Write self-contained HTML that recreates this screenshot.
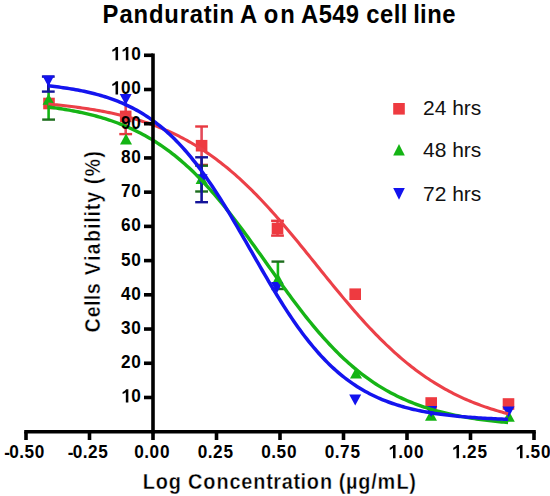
<!DOCTYPE html>
<html><head><meta charset="utf-8"><style>
html,body{margin:0;padding:0;background:#fff;}
body{width:550px;height:496px;overflow:hidden;font-family:"Liberation Sans",sans-serif;}
svg{display:block;}
</style></head><body>
<svg width="550" height="496" viewBox="0 0 550 496">
<rect width="550" height="496" fill="#fff"/>
<line x1="125.70" y1="97.50" x2="125.70" y2="134.10" stroke="#e44a5a" stroke-width="2.6"/><g stroke="#e83840" stroke-width="2.4"><line x1="119.30" y1="134.10" x2="132.10" y2="134.10"/></g>
<line x1="201.60" y1="126.50" x2="201.60" y2="164.90" stroke="#e44a5a" stroke-width="2.6"/><g stroke="#e83840" stroke-width="2.4"><line x1="195.20" y1="126.50" x2="208.00" y2="126.50"/><line x1="195.20" y1="164.90" x2="208.00" y2="164.90"/></g>
<line x1="277.50" y1="220.80" x2="277.50" y2="235.60" stroke="#e44a5a" stroke-width="2.6"/><g stroke="#e83840" stroke-width="2.4"><line x1="271.10" y1="220.80" x2="283.90" y2="220.80"/><line x1="271.10" y1="235.60" x2="283.90" y2="235.60"/></g>
<rect x="43.20" y="97.70" width="11.60" height="11.60" fill="#ee3a40"/>
<rect x="119.90" y="110.60" width="11.60" height="11.60" fill="#ee3a40"/>
<rect x="195.80" y="139.90" width="11.60" height="11.60" fill="#ee3a40"/>
<rect x="271.70" y="222.70" width="11.60" height="11.60" fill="#ee3a40"/>
<rect x="349.40" y="288.40" width="11.60" height="11.60" fill="#ee3a40"/>
<rect x="425.40" y="397.20" width="11.60" height="11.60" fill="#ee3a40"/>
<rect x="502.70" y="398.20" width="11.60" height="11.60" fill="#ee3a40"/>
<line x1="48.60" y1="80.00" x2="48.60" y2="119.60" stroke="#14b414" stroke-width="2.6"/><g stroke="#1e6e1e" stroke-width="2.4"><line x1="42.20" y1="119.60" x2="55.00" y2="119.60"/></g>
<line x1="201.60" y1="165.70" x2="201.60" y2="191.50" stroke="#14b414" stroke-width="2.6"/><g stroke="#1e6e1e" stroke-width="2.4"><line x1="195.20" y1="165.70" x2="208.00" y2="165.70"/><line x1="195.20" y1="191.50" x2="208.00" y2="191.50"/></g>
<line x1="277.90" y1="261.60" x2="277.90" y2="289.00" stroke="#14b414" stroke-width="2.6"/><g stroke="#1e6e1e" stroke-width="2.4"><line x1="271.50" y1="261.60" x2="284.30" y2="261.60"/><line x1="271.50" y1="289.00" x2="284.30" y2="289.00"/></g>
<polygon points="48.60,93.70 54.60,104.70 42.60,104.70" fill="#14b414"/>
<polygon points="126.00,133.50 132.00,144.50 120.00,144.50" fill="#14b414"/>
<polygon points="201.60,173.10 207.60,184.10 195.60,184.10" fill="#14b414"/>
<polygon points="277.90,273.30 283.90,284.30 271.90,284.30" fill="#14b414"/>
<polygon points="356.00,367.50 362.00,378.50 350.00,378.50" fill="#14b414"/>
<polygon points="431.00,409.70 437.00,420.70 425.00,420.70" fill="#14b414"/>
<polygon points="508.80,410.70 514.80,421.70 502.80,421.70" fill="#14b414"/>
<line x1="48.30" y1="76.60" x2="48.30" y2="91.60" stroke="#14149a" stroke-width="2.6"/><g stroke="#14149a" stroke-width="2.4"><line x1="41.90" y1="76.60" x2="54.70" y2="76.60"/><line x1="41.90" y1="91.60" x2="54.70" y2="91.60"/></g>
<line x1="201.60" y1="157.30" x2="201.60" y2="202.20" stroke="#14149a" stroke-width="2.6"/><g stroke="#14149a" stroke-width="2.4"><line x1="195.20" y1="157.30" x2="208.00" y2="157.30"/><line x1="195.20" y1="202.20" x2="208.00" y2="202.20"/></g>
<polygon points="42.30,75.60 54.30,75.60 48.30,86.60" fill="#1212ee"/>
<polygon points="119.70,94.00 131.70,94.00 125.70,105.00" fill="#1212ee"/>
<polygon points="195.60,174.20 207.60,174.20 201.60,185.20" fill="#1212ee"/>
<polygon points="271.00,282.00 283.00,282.00 277.00,293.00" fill="#1212ee"/>
<polygon points="349.20,394.40 361.20,394.40 355.20,405.40" fill="#1212ee"/>
<polygon points="425.20,406.10 437.20,406.10 431.20,417.10" fill="#1212ee"/>
<polygon points="502.50,406.60 514.50,406.60 508.50,417.60" fill="#1212ee"/>
<polyline points="48.35,104.11 50.45,104.30 52.55,104.49 54.65,104.69 56.75,104.90 58.85,105.11 60.95,105.33 63.05,105.56 65.15,105.79 67.25,106.03 69.34,106.27 71.44,106.53 73.54,106.79 75.64,107.06 77.74,107.34 79.84,107.62 81.94,107.92 84.04,108.22 86.14,108.53 88.24,108.86 90.34,109.19 92.44,109.53 94.54,109.88 96.64,110.24 98.73,110.61 100.83,111.00 102.93,111.39 105.03,111.80 107.13,112.21 109.23,112.64 111.33,113.09 113.43,113.54 115.53,114.01 117.63,114.49 119.73,114.98 121.83,115.49 123.93,116.02 126.02,116.56 128.12,117.11 130.22,117.68 132.32,118.26 134.42,118.87 136.52,119.48 138.62,120.12 140.72,120.77 142.82,121.44 144.92,122.13 147.02,122.84 149.12,123.57 151.22,124.31 153.32,125.08 155.41,125.86 157.51,126.67 159.61,127.50 161.71,128.35 163.81,129.22 165.91,130.12 168.01,131.03 170.11,131.97 172.21,132.94 174.31,133.93 176.41,134.94 178.51,135.98 180.61,137.04 182.71,138.13 184.80,139.25 186.90,140.39 189.00,141.56 191.10,142.75 193.20,143.98 195.30,145.23 197.40,146.51 199.50,147.82 201.60,149.16 203.70,150.52 205.80,151.92 207.90,153.35 210.00,154.81 212.10,156.29 214.19,157.81 216.29,159.36 218.39,160.94 220.49,162.55 222.59,164.19 224.69,165.87 226.79,167.57 228.89,169.31 230.99,171.08 233.09,172.87 235.19,174.70 237.29,176.57 239.39,178.46 241.48,180.38 243.58,182.34 245.68,184.32 247.78,186.34 249.88,188.38 251.98,190.45 254.08,192.56 256.18,194.69 258.28,196.85 260.38,199.04 262.48,201.25 264.58,203.50 266.68,205.76 268.78,208.06 270.87,210.37 272.97,212.72 275.07,215.08 277.17,217.47 279.27,219.88 281.37,222.30 283.47,224.75 285.57,227.22 287.67,229.70 289.77,232.20 291.87,234.72 293.97,237.25 296.07,239.79 298.17,242.35 300.26,244.92 302.36,247.49 304.46,250.08 306.56,252.67 308.66,255.27 310.76,257.87 312.86,260.48 314.96,263.08 317.06,265.69 319.16,268.30 321.26,270.91 323.36,273.51 325.46,276.11 327.55,278.71 329.65,281.30 331.75,283.88 333.85,286.45 335.95,289.01 338.05,291.56 340.15,294.10 342.25,296.62 344.35,299.13 346.45,301.62 348.55,304.09 350.65,306.55 352.75,308.99 354.85,311.41 356.94,313.80 359.04,316.18 361.14,318.53 363.24,320.86 365.34,323.17 367.44,325.45 369.54,327.70 371.64,329.93 373.74,332.13 375.84,334.30 377.94,336.45 380.04,338.57 382.14,340.65 384.24,342.71 386.33,344.74 388.43,346.74 390.53,348.71 392.63,350.65 394.73,352.56 396.83,354.43 398.93,356.28 401.03,358.09 403.13,359.87 405.23,361.62 407.33,363.34 409.43,365.03 411.53,366.69 413.62,368.32 415.72,369.91 417.82,371.47 419.92,373.01 422.02,374.51 424.12,375.98 426.22,377.42 428.32,378.83 430.42,380.21 432.52,381.57 434.62,382.89 436.72,384.18 438.82,385.45 440.92,386.69 443.01,387.90 445.11,389.08 447.21,390.23 449.31,391.36 451.41,392.46 453.51,393.54 455.61,394.59 457.71,395.61 459.81,396.61 461.91,397.59 464.01,398.54 466.11,399.47 468.21,400.37 470.31,401.26 472.40,402.12 474.50,402.95 476.60,403.77 478.70,404.57 480.80,405.34 482.90,406.10 485.00,406.84 487.10,407.55 489.20,408.25 491.30,408.93 493.40,409.59 495.50,410.23 497.60,410.86 499.69,411.47 501.79,412.06 503.89,412.64 505.99,413.20 508.09,413.75" fill="none" stroke="#ec4048" stroke-width="3.10" stroke-linejoin="round"/>
<polyline points="48.35,107.02 50.45,107.29 52.55,107.57 54.65,107.86 56.75,108.16 58.85,108.47 60.95,108.79 63.05,109.12 65.15,109.46 67.25,109.82 69.34,110.18 71.44,110.56 73.54,110.96 75.64,111.36 77.74,111.78 79.84,112.22 81.94,112.66 84.04,113.13 86.14,113.61 88.24,114.10 90.34,114.61 92.44,115.14 94.54,115.69 96.64,116.26 98.73,116.84 100.83,117.44 102.93,118.06 105.03,118.71 107.13,119.37 109.23,120.05 111.33,120.76 113.43,121.49 115.53,122.24 117.63,123.01 119.73,123.81 121.83,124.64 123.93,125.49 126.02,126.37 128.12,127.27 130.22,128.20 132.32,129.16 134.42,130.15 136.52,131.16 138.62,132.21 140.72,133.29 142.82,134.40 144.92,135.54 147.02,136.71 149.12,137.92 151.22,139.16 153.32,140.43 155.41,141.74 157.51,143.09 159.61,144.47 161.71,145.89 163.81,147.34 165.91,148.84 168.01,150.37 170.11,151.94 172.21,153.55 174.31,155.19 176.41,156.88 178.51,158.61 180.61,160.38 182.71,162.18 184.80,164.03 186.90,165.92 189.00,167.85 191.10,169.83 193.20,171.84 195.30,173.89 197.40,175.99 199.50,178.12 201.60,180.30 203.70,182.51 205.80,184.77 207.90,187.06 210.00,189.40 212.10,191.77 214.19,194.18 216.29,196.63 218.39,199.11 220.49,201.63 222.59,204.18 224.69,206.77 226.79,209.39 228.89,212.04 230.99,214.72 233.09,217.43 235.19,220.17 237.29,222.93 239.39,225.72 241.48,228.53 243.58,231.37 245.68,234.22 247.78,237.09 249.88,239.98 251.98,242.88 254.08,245.80 256.18,248.73 258.28,251.67 260.38,254.61 262.48,257.56 264.58,260.52 266.68,263.48 268.78,266.43 270.87,269.39 272.97,272.34 275.07,275.29 277.17,278.22 279.27,281.15 281.37,284.07 283.47,286.98 285.57,289.87 287.67,292.74 289.77,295.59 291.87,298.43 293.97,301.24 296.07,304.03 298.17,306.80 300.26,309.53 302.36,312.25 304.46,314.93 306.56,317.58 308.66,320.20 310.76,322.79 312.86,325.35 314.96,327.87 317.06,330.35 319.16,332.80 321.26,335.22 323.36,337.59 325.46,339.93 327.55,342.22 329.65,344.48 331.75,346.70 333.85,348.88 335.95,351.02 338.05,353.11 340.15,355.17 342.25,357.19 344.35,359.16 346.45,361.09 348.55,362.99 350.65,364.84 352.75,366.65 354.85,368.42 356.94,370.15 359.04,371.84 361.14,373.49 363.24,375.10 365.34,376.67 367.44,378.20 369.54,379.70 371.64,381.16 373.74,382.58 375.84,383.96 377.94,385.31 380.04,386.62 382.14,387.90 384.24,389.14 386.33,390.35 388.43,391.52 390.53,392.67 392.63,393.78 394.73,394.86 396.83,395.91 398.93,396.92 401.03,397.91 403.13,398.87 405.23,399.81 407.33,400.71 409.43,401.59 411.53,402.44 413.62,403.27 415.72,404.07 417.82,404.85 419.92,405.60 422.02,406.33 424.12,407.04 426.22,407.72 428.32,408.39 430.42,409.03 432.52,409.66 434.62,410.26 436.72,410.84 438.82,411.41 440.92,411.96 443.01,412.49 445.11,413.00 447.21,413.50 449.31,413.98 451.41,414.44 453.51,414.89 455.61,415.33 457.71,415.75 459.81,416.15 461.91,416.55 464.01,416.93 466.11,417.30 468.21,417.65 470.31,418.00 472.40,418.33 474.50,418.65 476.60,418.96 478.70,419.26 480.80,419.55 482.90,419.83 485.00,420.10 487.10,420.36 489.20,420.61 491.30,420.86 493.40,421.09 495.50,421.32 497.60,421.54 499.69,421.75 501.79,421.96 503.89,422.16 505.99,422.35 508.09,422.53" fill="none" stroke="#16b416" stroke-width="3.40" stroke-linejoin="round"/>
<polyline points="48.35,85.89 50.45,86.11 52.55,86.35 54.65,86.59 56.75,86.84 58.85,87.11 60.95,87.39 63.05,87.67 65.15,87.98 67.25,88.29 69.34,88.61 71.44,88.95 73.54,89.31 75.64,89.68 77.74,90.06 79.84,90.46 81.94,90.88 84.04,91.32 86.14,91.77 88.24,92.24 90.34,92.73 92.44,93.24 94.54,93.77 96.64,94.33 98.73,94.90 100.83,95.50 102.93,96.12 105.03,96.77 107.13,97.44 109.23,98.14 111.33,98.87 113.43,99.63 115.53,100.42 117.63,101.23 119.73,102.08 121.83,102.96 123.93,103.88 126.02,104.83 128.12,105.82 130.22,106.84 132.32,107.90 134.42,109.00 136.52,110.14 138.62,111.32 140.72,112.55 142.82,113.82 144.92,115.13 147.02,116.49 149.12,117.90 151.22,119.35 153.32,120.86 155.41,122.41 157.51,124.02 159.61,125.68 161.71,127.39 163.81,129.16 165.91,130.98 168.01,132.86 170.11,134.80 172.21,136.79 174.31,138.84 176.41,140.96 178.51,143.13 180.61,145.36 182.71,147.65 184.80,150.01 186.90,152.42 189.00,154.90 191.10,157.43 193.20,160.03 195.30,162.69 197.40,165.41 199.50,168.19 201.60,171.02 203.70,173.92 205.80,176.87 207.90,179.88 210.00,182.94 212.10,186.06 214.19,189.23 216.29,192.45 218.39,195.71 220.49,199.03 222.59,202.38 224.69,205.78 226.79,209.22 228.89,212.69 230.99,216.20 233.09,219.74 235.19,223.30 237.29,226.89 239.39,230.51 241.48,234.14 243.58,237.79 245.68,241.45 247.78,245.11 249.88,248.79 251.98,252.46 254.08,256.14 256.18,259.81 258.28,263.47 260.38,267.12 262.48,270.75 264.58,274.37 266.68,277.96 268.78,281.53 270.87,285.07 272.97,288.59 275.07,292.06 277.17,295.51 279.27,298.91 281.37,302.27 283.47,305.59 285.57,308.86 287.67,312.09 289.77,315.26 291.87,318.38 293.97,321.45 296.07,324.47 298.17,327.43 300.26,330.33 302.36,333.18 304.46,335.96 306.56,338.69 308.66,341.36 310.76,343.96 312.86,346.51 314.96,348.99 317.06,351.41 319.16,353.77 321.26,356.07 323.36,358.31 325.46,360.49 327.55,362.61 329.65,364.67 331.75,366.68 333.85,368.62 335.95,370.51 338.05,372.34 340.15,374.11 342.25,375.83 344.35,377.50 346.45,379.11 348.55,380.67 350.65,382.18 352.75,383.65 354.85,385.06 356.94,386.42 359.04,387.74 361.14,389.02 363.24,390.25 365.34,391.44 367.44,392.58 369.54,393.69 371.64,394.75 373.74,395.78 375.84,396.77 377.94,397.73 380.04,398.65 382.14,399.53 384.24,400.39 386.33,401.21 388.43,402.00 390.53,402.76 392.63,403.49 394.73,404.19 396.83,404.87 398.93,405.52 401.03,406.15 403.13,406.75 405.23,407.33 407.33,407.89 409.43,408.42 411.53,408.93 413.62,409.43 415.72,409.90 417.82,410.35 419.92,410.79 422.02,411.21 424.12,411.61 426.22,412.00 428.32,412.37 430.42,412.73 432.52,413.07 434.62,413.40 436.72,413.71 438.82,414.01 440.92,414.30 443.01,414.58 445.11,414.85 447.21,415.10 449.31,415.35 451.41,415.59 453.51,415.81 455.61,416.03 457.71,416.24 459.81,416.43 461.91,416.62 464.01,416.81 466.11,416.98 468.21,417.15 470.31,417.31 472.40,417.47 474.50,417.62 476.60,417.76 478.70,417.89 480.80,418.02 482.90,418.15 485.00,418.27 487.10,418.38 489.20,418.49 491.30,418.60 493.40,418.70 495.50,418.80 497.60,418.89 499.69,418.98 501.79,419.06 503.89,419.15 505.99,419.22 508.09,419.30" fill="none" stroke="#1414ee" stroke-width="3.50" stroke-linejoin="round"/>
<g stroke="#000" stroke-width="3.60" fill="none" stroke-linecap="butt">
<line x1="153.00" y1="53.48" x2="153.00" y2="433.50"/>
<line x1="24.20" y1="431.70" x2="535.80" y2="431.70"/>
<line x1="144" y1="397.48" x2="153.00" y2="397.48"/>
<line x1="144" y1="363.26" x2="153.00" y2="363.26"/>
<line x1="144" y1="329.04" x2="153.00" y2="329.04"/>
<line x1="144" y1="294.82" x2="153.00" y2="294.82"/>
<line x1="144" y1="260.60" x2="153.00" y2="260.60"/>
<line x1="144" y1="226.38" x2="153.00" y2="226.38"/>
<line x1="144" y1="192.16" x2="153.00" y2="192.16"/>
<line x1="144" y1="157.94" x2="153.00" y2="157.94"/>
<line x1="144" y1="123.72" x2="153.00" y2="123.72"/>
<line x1="144" y1="89.50" x2="153.00" y2="89.50"/>
<line x1="144" y1="55.28" x2="153.00" y2="55.28"/>
<line x1="26.00" y1="431.70" x2="26.00" y2="440"/>
<line x1="89.50" y1="431.70" x2="89.50" y2="440"/>
<line x1="153.00" y1="431.70" x2="153.00" y2="440"/>
<line x1="216.50" y1="431.70" x2="216.50" y2="440"/>
<line x1="280.00" y1="431.70" x2="280.00" y2="440"/>
<line x1="343.50" y1="431.70" x2="343.50" y2="440"/>
<line x1="407.00" y1="431.70" x2="407.00" y2="440"/>
<line x1="470.50" y1="431.70" x2="470.50" y2="440"/>
<line x1="534.00" y1="431.70" x2="534.00" y2="440"/>
</g>
<g font-family="Liberation Sans, sans-serif" font-weight="bold" font-size="18.50" fill="#000" stroke="#fff" stroke-width="0.00">
<path transform="translate(125.48,402.38) scale(0.00840,-0.00930) translate(-537.5,0)" d="M880 0L580 0L580 1090Q440 960 195 895L195 1125Q320 1165 460 1260Q585 1350 640 1409L880 1409Z"/><text transform="translate(136.04,402.38) scale(0.9300,1.0300)" x="-5.13">0</text>
<text transform="translate(125.72,368.16) scale(0.9300,1.0300)" x="-5.09">2</text><text transform="translate(136.04,368.16) scale(0.9300,1.0300)" x="-5.13">0</text>
<text transform="translate(125.64,333.94) scale(0.9300,1.0300)" x="-5.02">3</text><text transform="translate(136.04,333.94) scale(0.9300,1.0300)" x="-5.13">0</text>
<text transform="translate(125.86,299.72) scale(0.9300,1.0300)" x="-5.23">4</text><text transform="translate(136.04,299.72) scale(0.9300,1.0300)" x="-5.13">0</text>
<text transform="translate(125.79,265.50) scale(0.9300,1.0300)" x="-5.17">5</text><text transform="translate(136.04,265.50) scale(0.9300,1.0300)" x="-5.13">0</text>
<text transform="translate(125.77,231.28) scale(0.9300,1.0300)" x="-5.15">6</text><text transform="translate(136.04,231.28) scale(0.9300,1.0300)" x="-5.13">0</text>
<text transform="translate(125.76,197.06) scale(0.9300,1.0300)" x="-5.14">7</text><text transform="translate(136.04,197.06) scale(0.9300,1.0300)" x="-5.13">0</text>
<text transform="translate(125.78,162.84) scale(0.9300,1.0300)" x="-5.15">8</text><text transform="translate(136.04,162.84) scale(0.9300,1.0300)" x="-5.13">0</text>
<text transform="translate(125.74,128.62) scale(0.9300,1.0300)" x="-5.12">9</text><text transform="translate(136.04,128.62) scale(0.9300,1.0300)" x="-5.13">0</text>
<path transform="translate(115.19,94.40) scale(0.00840,-0.00930) translate(-537.5,0)" d="M880 0L580 0L580 1090Q440 960 195 895L195 1125Q320 1165 460 1260Q585 1350 640 1409L880 1409Z"/><text transform="translate(125.75,94.40) scale(0.9300,1.0300)" x="-5.13">0</text><text transform="translate(136.04,94.40) scale(0.9300,1.0300)" x="-5.13">0</text>
<path transform="translate(115.19,60.18) scale(0.00840,-0.00930) translate(-537.5,0)" d="M880 0L580 0L580 1090Q440 960 195 895L195 1125Q320 1165 460 1260Q585 1350 640 1409L880 1409Z"/><path transform="translate(125.48,60.18) scale(0.00840,-0.00930) translate(-537.5,0)" d="M880 0L580 0L580 1090Q440 960 195 895L195 1125Q320 1165 460 1260Q585 1350 640 1409L880 1409Z"/><text transform="translate(136.04,60.18) scale(0.9300,1.0300)" x="-5.13">0</text>
<text transform="translate(7.09,459.00) scale(0.9300,1.0300)" x="-3.07">-</text><text transform="translate(13.91,458.20) scale(0.9300,1.0300)" x="-5.13">0</text><text transform="translate(21.63,458.20) scale(0.9300,1.0300)" x="-2.56">.</text><text transform="translate(29.38,458.20) scale(0.9300,1.0300)" x="-5.17">5</text><text transform="translate(39.63,458.20) scale(0.9300,1.0300)" x="-5.13">0</text>
<text transform="translate(70.59,459.00) scale(0.9300,1.0300)" x="-3.07">-</text><text transform="translate(77.41,458.20) scale(0.9300,1.0300)" x="-5.13">0</text><text transform="translate(85.13,458.20) scale(0.9300,1.0300)" x="-2.56">.</text><text transform="translate(92.80,458.20) scale(0.9300,1.0300)" x="-5.09">2</text><text transform="translate(103.17,458.20) scale(0.9300,1.0300)" x="-5.17">5</text>
<text transform="translate(138.93,458.20) scale(0.9300,1.0300)" x="-5.13">0</text><text transform="translate(146.65,458.20) scale(0.9300,1.0300)" x="-2.56">.</text><text transform="translate(154.36,458.20) scale(0.9300,1.0300)" x="-5.13">0</text><text transform="translate(164.65,458.20) scale(0.9300,1.0300)" x="-5.13">0</text>
<text transform="translate(202.43,458.20) scale(0.9300,1.0300)" x="-5.13">0</text><text transform="translate(210.15,458.20) scale(0.9300,1.0300)" x="-2.56">.</text><text transform="translate(217.82,458.20) scale(0.9300,1.0300)" x="-5.09">2</text><text transform="translate(228.19,458.20) scale(0.9300,1.0300)" x="-5.17">5</text>
<text transform="translate(265.93,458.20) scale(0.9300,1.0300)" x="-5.13">0</text><text transform="translate(273.65,458.20) scale(0.9300,1.0300)" x="-2.56">.</text><text transform="translate(281.40,458.20) scale(0.9300,1.0300)" x="-5.17">5</text><text transform="translate(291.65,458.20) scale(0.9300,1.0300)" x="-5.13">0</text>
<text transform="translate(329.43,458.20) scale(0.9300,1.0300)" x="-5.13">0</text><text transform="translate(337.15,458.20) scale(0.9300,1.0300)" x="-2.56">.</text><text transform="translate(344.86,458.20) scale(0.9300,1.0300)" x="-5.14">7</text><text transform="translate(355.19,458.20) scale(0.9300,1.0300)" x="-5.17">5</text>
<path transform="translate(392.65,458.20) scale(0.00840,-0.00930) translate(-537.5,0)" d="M880 0L580 0L580 1090Q440 960 195 895L195 1125Q320 1165 460 1260Q585 1350 640 1409L880 1409Z"/><text transform="translate(400.65,458.20) scale(0.9300,1.0300)" x="-2.56">.</text><text transform="translate(408.36,458.20) scale(0.9300,1.0300)" x="-5.13">0</text><text transform="translate(418.65,458.20) scale(0.9300,1.0300)" x="-5.13">0</text>
<path transform="translate(456.15,458.20) scale(0.00840,-0.00930) translate(-537.5,0)" d="M880 0L580 0L580 1090Q440 960 195 895L195 1125Q320 1165 460 1260Q585 1350 640 1409L880 1409Z"/><text transform="translate(464.15,458.20) scale(0.9300,1.0300)" x="-2.56">.</text><text transform="translate(471.82,458.20) scale(0.9300,1.0300)" x="-5.09">2</text><text transform="translate(482.19,458.20) scale(0.9300,1.0300)" x="-5.17">5</text>
<path transform="translate(519.65,458.20) scale(0.00840,-0.00930) translate(-537.5,0)" d="M880 0L580 0L580 1090Q440 960 195 895L195 1125Q320 1165 460 1260Q585 1350 640 1409L880 1409Z"/><text transform="translate(527.65,458.20) scale(0.9300,1.0300)" x="-2.56">.</text><text transform="translate(535.40,458.20) scale(0.9300,1.0300)" x="-5.17">5</text><text transform="translate(545.65,458.20) scale(0.9300,1.0300)" x="-5.13">0</text>
</g>
<g font-family="Liberation Sans, sans-serif" font-weight="bold" font-size="24.80" fill="#000" stroke="#fff" stroke-width="0.00"><text transform="translate(110.94,23.40) scale(0.9600,1.0350)" x="-8.68">P</text><text transform="translate(126.43,23.40) scale(0.9600,1.0350)" x="-7.34">a</text><text transform="translate(140.79,23.40) scale(0.9600,1.0350)" x="-7.62">n</text><text transform="translate(155.87,23.40) scale(0.9600,1.0350)" x="-7.27">d</text><text transform="translate(171.57,23.40) scale(0.9600,1.0350)" x="-7.53">u</text><text transform="translate(184.94,23.40) scale(0.9600,1.0350)" x="-5.46">r</text><text transform="translate(196.76,23.40) scale(0.9600,1.0350)" x="-7.34">a</text><text transform="translate(207.63,23.40) scale(0.9600,1.0350)" x="-4.13">t</text><text transform="translate(215.48,23.40) scale(0.9600,1.0350)" x="-3.43">i</text><text transform="translate(226.85,23.40) scale(0.9600,1.0350)" x="-7.62">n</text><text transform="translate(248.59,23.40) scale(0.9600,1.0350)" x="-8.94">A</text><text transform="translate(270.94,23.40) scale(0.9600,1.0350)" x="-7.57">o</text><text transform="translate(287.65,23.40) scale(0.9600,1.0350)" x="-7.62">n</text><text transform="translate(309.69,23.40) scale(0.9600,1.0350)" x="-8.94">A</text><text transform="translate(325.37,23.40) scale(0.9600,1.0350)" x="-6.93">5</text><text transform="translate(339.02,23.40) scale(0.9600,1.0350)" x="-7.02">4</text><text transform="translate(352.43,23.40) scale(0.9600,1.0350)" x="-6.87">9</text><text transform="translate(373.01,23.40) scale(0.9600,1.0350)" x="-7.02">c</text><text transform="translate(386.76,23.40) scale(0.9600,1.0350)" x="-6.96">e</text><text transform="translate(397.05,23.40) scale(0.9600,1.0350)" x="-3.43">l</text><text transform="translate(403.97,23.40) scale(0.9600,1.0350)" x="-3.43">l</text><text transform="translate(416.53,23.40) scale(0.9600,1.0350)" x="-3.43">l</text><text transform="translate(423.41,23.40) scale(0.9600,1.0350)" x="-3.43">i</text><text transform="translate(434.48,23.40) scale(0.9600,1.0350)" x="-7.62">n</text><text transform="translate(448.95,23.40) scale(0.9600,1.0350)" x="-6.96">e</text></g>
<g font-family="Liberation Sans, sans-serif" font-weight="bold" font-size="21.40" fill="#000" stroke="#fff" stroke-width="0.35"><text transform="translate(149.20,489.40) scale(0.9300,1.0500)" x="-6.92">L</text><text transform="translate(161.88,489.40) scale(0.9300,1.0500)" x="-6.54">o</text><text transform="translate(174.68,489.40) scale(0.9300,1.0500)" x="-6.26">g</text><text transform="translate(195.31,489.40) scale(0.9300,1.0500)" x="-7.87">C</text><text transform="translate(209.43,489.40) scale(0.9300,1.0500)" x="-6.54">o</text><text transform="translate(222.54,489.40) scale(0.9300,1.0500)" x="-6.58">n</text><text transform="translate(235.09,489.40) scale(0.9300,1.0500)" x="-6.06">c</text><text transform="translate(246.94,489.40) scale(0.9300,1.0500)" x="-6.00">e</text><text transform="translate(259.41,489.40) scale(0.9300,1.0500)" x="-6.58">n</text><text transform="translate(269.47,489.40) scale(0.9300,1.0500)" x="-3.56">t</text><text transform="translate(277.74,489.40) scale(0.9300,1.0500)" x="-4.71">r</text><text transform="translate(287.70,489.40) scale(0.9300,1.0500)" x="-6.33">a</text><text transform="translate(296.83,489.40) scale(0.9300,1.0500)" x="-3.56">t</text><text transform="translate(303.35,489.40) scale(0.9300,1.0500)" x="-2.96">i</text><text transform="translate(312.87,489.40) scale(0.9300,1.0500)" x="-6.54">o</text><text transform="translate(325.99,489.40) scale(0.9300,1.0500)" x="-6.58">n</text><text transform="translate(342.51,489.40) scale(0.9300,1.0500)" x="-4.09">(</text><text transform="translate(351.78,489.40) scale(0.9300,1.0500)" x="-6.22">µ</text><text transform="translate(364.14,489.40) scale(0.9300,1.0500)" x="-6.26">g</text><text transform="translate(373.93,489.40) scale(0.9300,1.0500)" x="-2.97">/</text><text transform="translate(386.46,489.40) scale(0.9300,1.0500)" x="-9.56">m</text><text transform="translate(402.85,489.40) scale(0.9300,1.0500)" x="-6.92">L</text><text transform="translate(412.04,489.40) scale(0.9300,1.0500)" x="-3.04">)</text></g>
<g transform="translate(99.70,241.80) rotate(-90)" font-family="Liberation Sans, sans-serif" font-weight="bold" font-size="21.90" fill="#000" stroke="#fff" stroke-width="0.40"><text transform="translate(-83.56,0.00) scale(0.9000,1.0200)" x="-8.06">C</text><text transform="translate(-70.06,0.00) scale(0.9000,1.0200)" x="-6.14">e</text><text transform="translate(-61.39,0.00) scale(0.9000,1.0200)" x="-3.03">l</text><text transform="translate(-55.71,0.00) scale(0.9000,1.0200)" x="-3.03">l</text><text transform="translate(-47.03,0.00) scale(0.9000,1.0200)" x="-6.03">s</text><text transform="translate(-26.96,0.00) scale(0.9000,1.0200)" x="-7.30">V</text><text transform="translate(-16.50,0.00) scale(0.9000,1.0200)" x="-3.03">i</text><text transform="translate(-6.84,0.00) scale(0.9000,1.0200)" x="-6.48">a</text><text transform="translate(5.94,0.00) scale(0.9000,1.0200)" x="-6.96">b</text><text transform="translate(15.52,0.00) scale(0.9000,1.0200)" x="-3.03">i</text><text transform="translate(21.73,0.00) scale(0.9000,1.0200)" x="-3.03">l</text><text transform="translate(27.94,0.00) scale(0.9000,1.0200)" x="-3.03">i</text><text transform="translate(34.76,0.00) scale(0.9000,1.0200)" x="-3.65">t</text><text transform="translate(44.65,0.00) scale(0.9000,1.0200)" x="-6.12">y</text><text transform="translate(61.38,0.00) scale(0.9000,1.0200)" x="-4.18">(</text><text transform="translate(74.08,0.00) scale(0.9000,1.0200)" x="-9.72">%</text><text transform="translate(86.82,0.00) scale(0.9000,1.0200)" x="-3.11">)</text></g>
<rect x="393.20" y="103.00" width="11.60" height="11.60" fill="#ee3a40"/>
<text x="423" y="115.10" font-family="Liberation Sans, sans-serif" font-size="21" fill="#111">24 hrs</text>
<polygon points="399.00,144.00 404.80,155.60 393.20,155.60" fill="#14b414"/>
<text x="423" y="157.00" font-family="Liberation Sans, sans-serif" font-size="21" fill="#111">48 hrs</text>
<polygon points="393.20,188.10 404.80,188.10 399.00,199.70" fill="#1212ee"/>
<text x="423" y="201.10" font-family="Liberation Sans, sans-serif" font-size="21" fill="#111">72 hrs</text>
</svg>
</body></html>
